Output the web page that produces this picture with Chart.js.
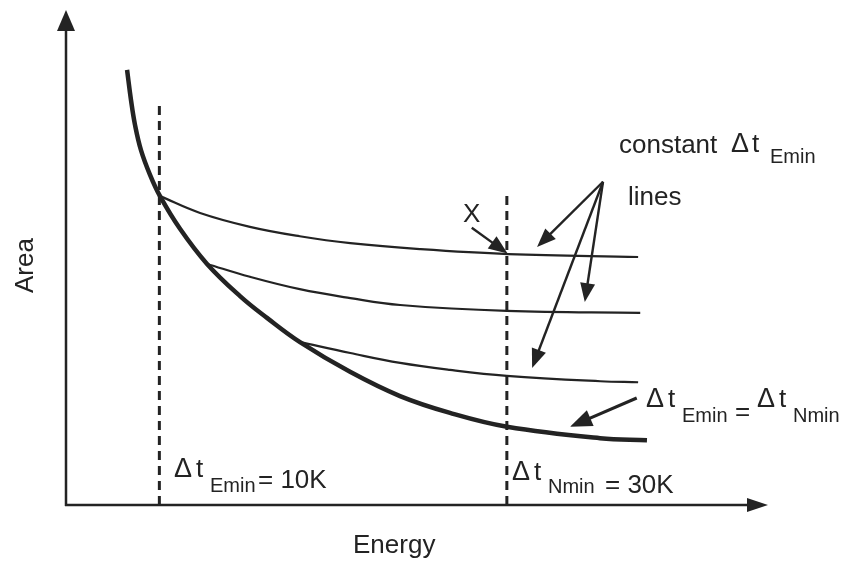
<!DOCTYPE html>
<html>
<head>
<meta charset="utf-8">
<script src="https://cdn.jsdelivr.net/npm/chart.js@4/dist/chart.umd.min.js"></script>
<style>
  html, body { margin: 0; padding: 0; background: #ffffff; }
  canvas { display: block; }
</style>
</head>
<body>
<canvas id="chart" width="842" height="562"></canvas>
<script>
// Area vs. energy: the minimum-area envelope (ΔtEmin = ΔtNmin) and the
// constant-ΔtEmin curves that leave it and flatten out as energy grows.
// Values are in relative units (0–100 on both axes).

const energyRange = [0, 100];
const areaRange = [0, 100];

// envelope where ΔtEmin = ΔtNmin  [energy, area]
const envelope = [
  [8.7, 87.9], [9.26, 81.8], [9.83, 76.8], [10.68, 71.7], [11.97, 66.7],
  [13.39, 62.4], [16.24, 55.8], [20.09, 48.7], [24.79, 42.2], [28.63, 37.8],
  [33.33, 32.9], [40.46, 26.9], [47.58, 22.0], [54.7, 18.6], [62.82, 15.8],
  [76.07, 13.5], [82.76, 13.1]
];

// constant ΔtEmin lines
const constantLineA = [
  [13.39, 62.4], [19.1, 59.0], [26.2, 56.2], [33.3, 54.3], [40.5, 52.9],
  [50.4, 51.7], [63.0, 50.7], [81.5, 50.1]
];
const constantLineB = [
  [20.09, 48.7], [26.2, 46.1], [33.3, 43.6], [40.5, 41.8], [47.6, 40.4],
  [62.8, 39.2], [81.8, 38.8]
];
const constantLineC = [
  [33.33, 32.9], [40.5, 30.7], [47.6, 28.7], [54.7, 27.3], [62.8, 26.1],
  [76.1, 25.0], [81.5, 24.8]
];

// energy at ΔtEmin = 10K and ΔtNmin = 30K, and how high each marker reaches
const markerEnergy = [13.3, 62.8];
const markerTop = [81.2, 63.2];

// pointer arrows [from, to] in energy/area units
const pointerFrom = [[57.8, 56.0], [76.5, 65.3], [76.5, 65.3], [76.5, 65.3], [81.3, 21.6]];
const pointerTo   = [[62.9, 50.8], [67.1, 52.1], [73.9, 41.0], [66.4, 27.7], [71.8, 15.8]];

const INK = '#232323';
const toXY = pts => pts.map(([x, y]) => ({ x, y }));

function curve(data, width) {
  return {
    data: toXY(data),
    showLine: true,
    borderColor: INK,
    borderWidth: width,
    pointRadius: 0,
    tension: 0.4,
    fill: false,
    clip: false
  };
}

function marker(i) {
  return {
    data: toXY([[markerEnergy[i], areaRange[0]], [markerEnergy[i], markerTop[i]]]),
    showLine: true,
    borderColor: INK,
    borderWidth: 3,
    borderDash: [9, 6],
    borderCapStyle: 'butt',
    pointRadius: 0,
    fill: false,
    clip: false
  };
}

function arrowHead(ctx, x0, y0, x1, y1, len, half) {
  const a = Math.atan2(y1 - y0, x1 - x0);
  const bx = x1 - len * Math.cos(a), by = y1 - len * Math.sin(a);
  ctx.beginPath();
  ctx.moveTo(x1, y1);
  ctx.lineTo(bx + half * Math.sin(a), by - half * Math.cos(a));
  ctx.lineTo(bx - half * Math.sin(a), by + half * Math.cos(a));
  ctx.closePath();
  ctx.fill();
}

function arrow(ctx, x0, y0, x1, y1, width, len, half) {
  const a = Math.atan2(y1 - y0, x1 - x0);
  const bx = x1 - (len - 2) * Math.cos(a), by = y1 - (len - 2) * Math.sin(a);
  ctx.lineWidth = width;
  ctx.beginPath();
  ctx.moveTo(x0, y0);
  ctx.lineTo(bx, by);
  ctx.stroke();
  arrowHead(ctx, x0, y0, x1, y1, len, half);
}

const FAMILY = '"Liberation Sans", Arial, sans-serif';
const MAIN = '26px ' + FAMILY;
const DELTA = '27px ' + FAMILY;
const SUB = '20px ' + FAMILY;

function text(ctx, s, x, y, font) {
  ctx.font = font;
  ctx.fillText(s, x, y);
}

// "Δ t" followed by a subscript
function deltaT(ctx, x, y, sub, subDy) {
  text(ctx, 'Δ', x, y, DELTA);
  text(ctx, 't', x + 22, y, MAIN);
  text(ctx, sub, x + 36, y + subDy, SUB);
}

const diagramPlugin = {
  id: 'diagram',
  afterDatasetsDraw(chart) {
    const { ctx, scales: { x: xs, y: ys } } = chart;
    const px = v => xs.getPixelForValue(v);
    const py = v => ys.getPixelForValue(v);
    ctx.save();
    ctx.strokeStyle = INK;
    ctx.fillStyle = INK;
    ctx.lineCap = 'butt';

    // axes with arrowheads
    const ox = px(energyRange[0]), oy = py(areaRange[0]);
    arrow(ctx, ox, oy + 1, ox, py(areaRange[1]), 2.5, 21, 9);
    arrow(ctx, ox - 1, oy, px(energyRange[1]), oy, 2.5, 21, 7);

    // pointer arrows
    pointerFrom.forEach((f, i) => {
      const t = pointerTo[i];
      const big = i === pointerFrom.length - 1;
      arrow(ctx, px(f[0]), py(f[1]), px(t[0]), py(t[1]), big ? 3.2 : 2.4, big ? 22 : 19, big ? 8.5 : 7.5);
    });

    // labels
    ctx.textBaseline = 'alphabetic';
    ctx.textAlign = 'left';
    text(ctx, 'constant', 619, 153, MAIN);
    text(ctx, 'Δ', 731, 152, DELTA);
    text(ctx, 't', 752, 152, MAIN);
    text(ctx, 'Emin', 770, 163, SUB);
    text(ctx, 'lines', 628, 205, MAIN);
    text(ctx, 'X', 463, 222, MAIN);

    deltaT(ctx, 646, 407, 'Emin', 15);
    text(ctx, '=', 735, 420, MAIN);
    deltaT(ctx, 757, 407, 'Nmin', 15);

    deltaT(ctx, 512, 480, 'Nmin', 13);
    text(ctx, '= 30K', 605, 493, MAIN);

    deltaT(ctx, 174, 477, 'Emin', 15);
    text(ctx, '= 10K', 258, 488, MAIN);

    text(ctx, 'Energy', 353, 553, MAIN);

    ctx.translate(33, 293);
    ctx.rotate(-Math.PI / 2);
    text(ctx, 'Area', 0, 0, MAIN);
    ctx.restore();
  }
};

new Chart(document.getElementById('chart'), {
  type: 'scatter',
  data: {
    datasets: [
      curve(envelope, 4.5),
      curve(constantLineA, 2.2),
      curve(constantLineB, 2.2),
      curve(constantLineC, 2.2),
      marker(0),
      marker(1)
    ]
  },
  options: {
    responsive: false,
    animation: false,
    devicePixelRatio: 1,
    layout: { padding: { left: 66, right: 74, top: 10, bottom: 57 } },
    plugins: { legend: { display: false }, tooltip: { enabled: false } },
    scales: {
      x: { type: 'linear', display: false, min: energyRange[0], max: energyRange[1] },
      y: { type: 'linear', display: false, min: areaRange[0], max: areaRange[1] }
    }
  },
  plugins: [diagramPlugin]
});
</script>
</body>
</html>
